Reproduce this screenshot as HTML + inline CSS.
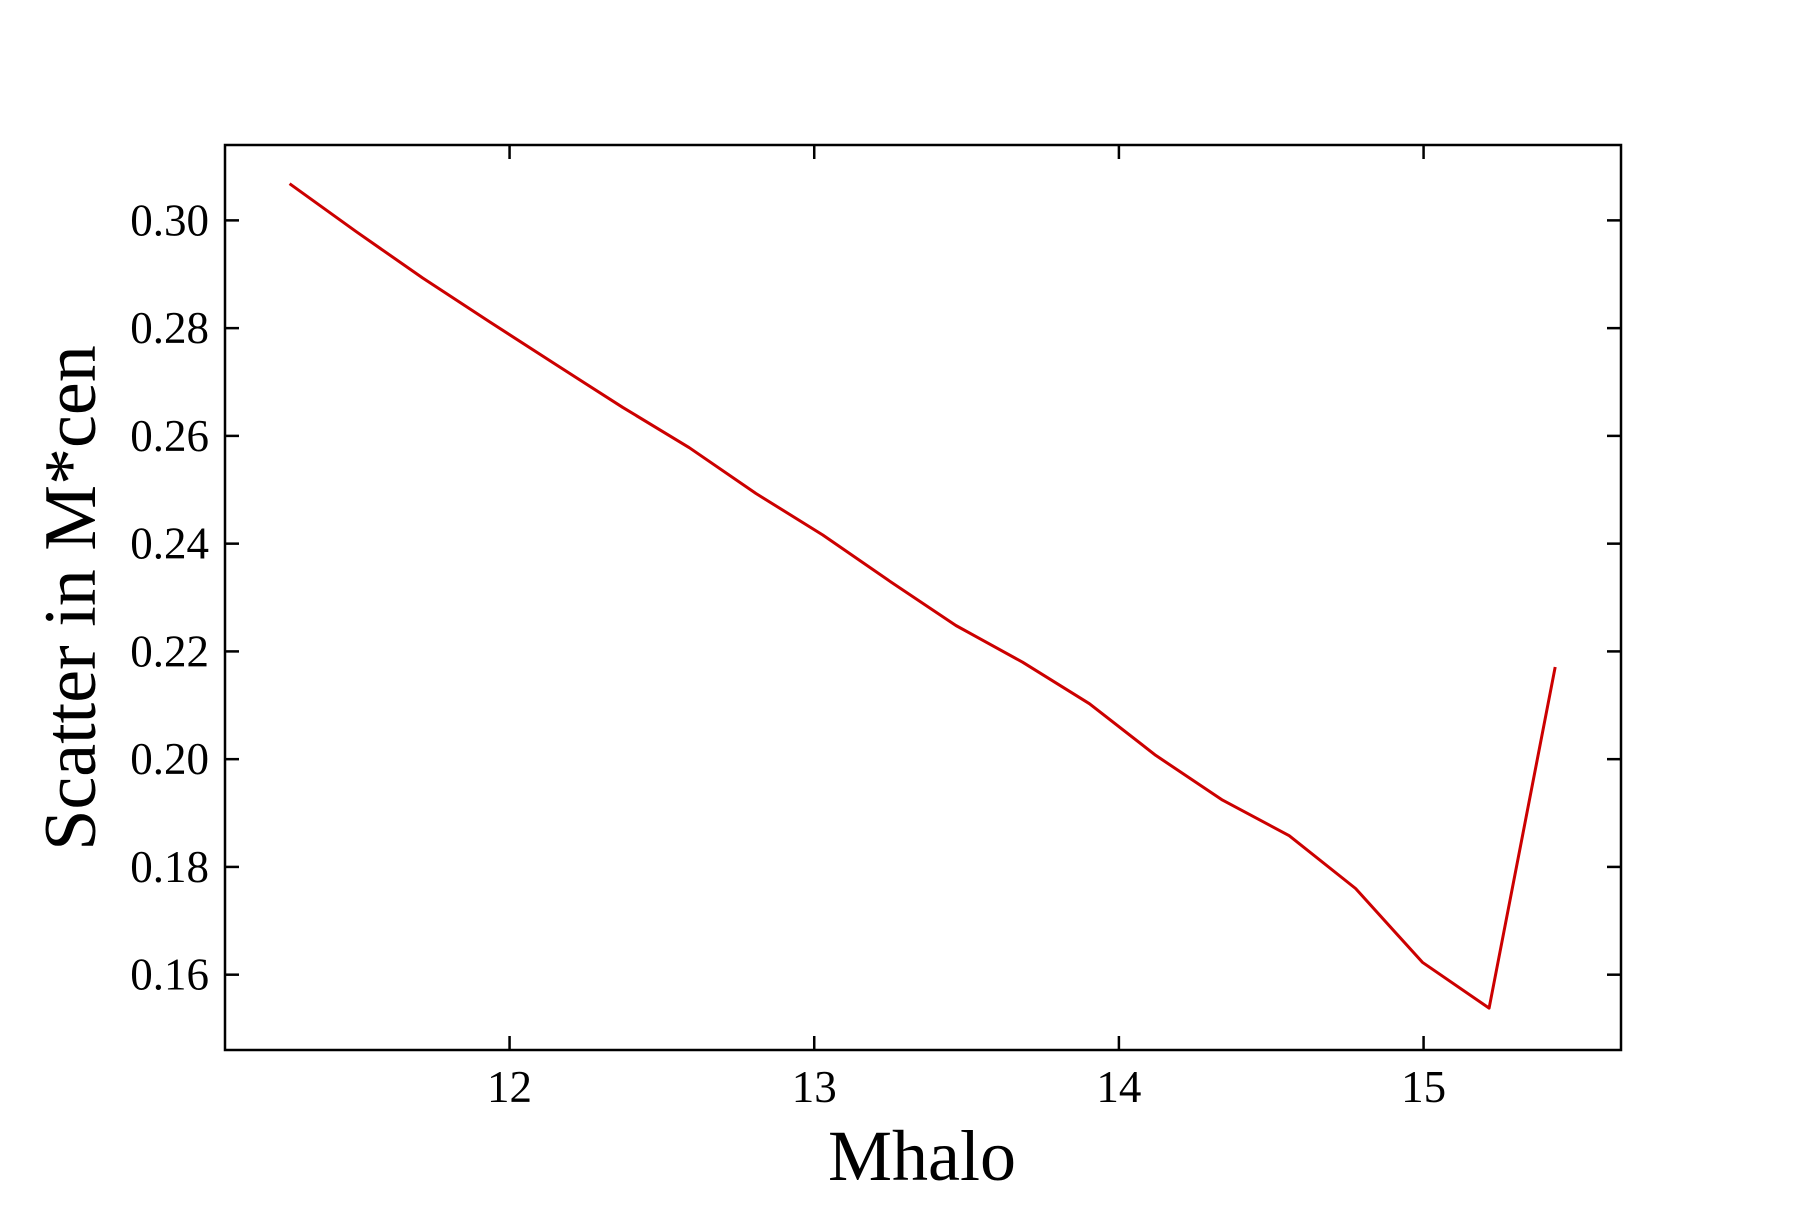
<!DOCTYPE html>
<html><head><meta charset="utf-8"><style>
html,body{margin:0;padding:0;background:#fff;}
svg text{font-family:"Liberation Serif",serif;fill:#000;}
</style></head><body>
<svg id="chart" width="1800" height="1200" viewBox="0 0 1800 1200" xmlns="http://www.w3.org/2000/svg">
<rect width="1800" height="1200" fill="#fff"/>
<g id="ticks"></g>
<path id="series" fill="none" stroke="#cc0000" stroke-width="3" stroke-linejoin="round"/>
<rect x="225" y="145" width="1396" height="905" fill="none" stroke="#000" stroke-width="2.5"/>
<text x="922" y="1180" font-size="72" text-anchor="middle">Mhalo</text>
<text transform="translate(95,598) rotate(-90)" font-size="74" text-anchor="middle">Scatter in M*cen</text>
</svg>
<script>
const xValues=[11.278,11.497,11.715,11.934,12.153,12.371,12.590,12.809,13.028,13.246,13.465,13.684,13.903,14.121,14.340,14.559,14.777,14.996,15.215,15.432];
const yValues=[0.3068,0.2979,0.2893,0.2812,0.2732,0.2653,0.2578,0.2493,0.2416,0.2331,0.2248,0.2180,0.2103,0.2007,0.1924,0.1858,0.1760,0.1623,0.1538,0.2171];
const xTicks=[12,13,14,15];
const yTicks=[0.16,0.18,0.20,0.22,0.24,0.26,0.28,0.30];
const xMin=11.066,xMax=15.648,yMin=0.14602,yMax=0.31399;
const L=225,R=1621,T=145,B=1050;
function sx(v){return L+(v-xMin)/(xMax-xMin)*(R-L);}
function sy(v){return B-(v-yMin)/(yMax-yMin)*(B-T);}
const NS="http://www.w3.org/2000/svg";
const g=document.getElementById('ticks');
function ln(x1,y1,x2,y2,name){const l=document.createElementNS(NS,'line');
l.setAttribute('x1',x1);l.setAttribute('y1',y1);l.setAttribute('x2',x2);l.setAttribute('y2',y2);
l.setAttribute('stroke','#000');l.setAttribute('stroke-width','2.5');


g.appendChild(l);}
xTicks.forEach(v=>{const x=sx(v);ln(x,B,x,B-14,'x-tick');ln(x,T,x,T+14,'x-tick-top');
const t=document.createElementNS(NS,'text');t.setAttribute('x',x);t.setAttribute('y',B+52);
t.setAttribute('font-size','45');t.setAttribute('text-anchor','middle');t.textContent=String(v);


g.appendChild(t);});
yTicks.forEach(v=>{const y=sy(v);ln(L,y,L+14,y,'y-tick');ln(R,y,R-14,y,'y-tick-right');
const t=document.createElementNS(NS,'text');t.setAttribute('x',L-16);t.setAttribute('y',y+15);
t.setAttribute('font-size','45');t.setAttribute('text-anchor','end');t.textContent=v.toFixed(2);


g.appendChild(t);});
document.getElementById('series').setAttribute('d',xValues.map((v,i)=>(i?'L':'M')+sx(v).toFixed(1)+','+sy(yValues[i]).toFixed(1)).join(' '));
</script>
</body></html>
